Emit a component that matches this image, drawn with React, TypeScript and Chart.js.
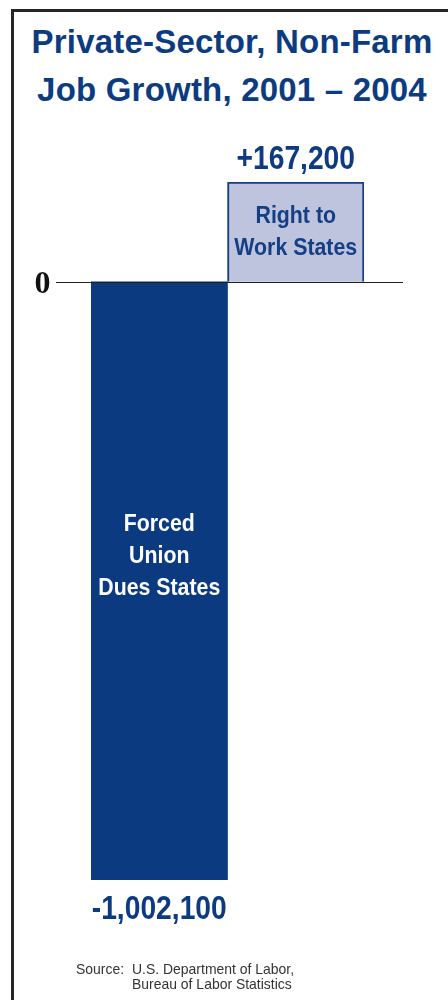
import React, { useEffect, useRef } from "react";
import { Chart, registerables } from "chart.js";

Chart.register(...registerables);

// ---- data ----
const categoryLines: string[][] = [
  ["Forced", "Union", "Dues States"],
  ["Right to", "Work States"],
];
const jobGrowth: number[] = [-1002100, 167200];
const titleLines: string[] = ["Private-Sector, Non-Farm", "Job Growth, 2001 \u2013 2004"];
const sourceLabel = "Source:";
const sourceLines: string[] = ["U.S. Department of Labor,", "Bureau of Labor Statistics"];
const zeroTickLabel = "0";

// ---- styles ----
const NAVY = "#0c3b81";
const barColors = ["#0b3a80", "#bec3de"];
const barBorderColors = ["#0b3a80", "#123f86"];
const labelColors = ["#ffffff", "#143f84"];
const labelCenterFrac = [0.455, 0.485];

const fmt = (v: number) => (v > 0 ? "+" : "-") + Math.abs(v).toLocaleString("en-US");

function drawScaled(ctx: CanvasRenderingContext2D, text: string, x: number, y: number, sx: number) {
  ctx.save();
  ctx.translate(x, y);
  ctx.scale(sx, 1);
  ctx.fillText(text, 0, 0);
  ctx.restore();
}

const barLabelPlugin = {
  id: "barLabels",
  afterDatasetsDraw(chart: any) {
    const ctx: CanvasRenderingContext2D = chart.ctx;
    const ca = chart.chartArea;
    const yScale = chart.scales.y;
    const y0 = Math.round(yScale.getPixelForValue(0)) + 0.5;
    ctx.save();
    // zero line
    ctx.strokeStyle = "#1e1e1e";
    ctx.lineWidth = 1.2;
    ctx.beginPath();
    ctx.moveTo(ca.left - 35, y0);
    ctx.lineTo(ca.right + 39, y0);
    ctx.stroke();
    // zero tick label
    ctx.fillStyle = "#111111";
    ctx.font = "bold 32px 'Liberation Serif', serif";
    ctx.textAlign = "right";
    ctx.textBaseline = "alphabetic";
    ctx.fillText(zeroTickLabel, ca.left - 40.5, y0 + 10.5);

    const meta = chart.getDatasetMeta(0);
    meta.data.forEach((bar: any, i: number) => {
      const v = jobGrowth[i];
      const p = bar.getProps(["x", "y", "base"], true);
      // value label
      ctx.fillStyle = NAVY;
      ctx.textAlign = "center";
      ctx.font = "bold 34px 'Liberation Sans', Arial, sans-serif";
      const vy = v >= 0 ? p.y - 13.5 : p.y + 39;
      drawScaled(ctx, fmt(v), p.x, vy, 0.83);
      // category label inside bar
      const top = Math.min(p.y, p.base);
      const bottom = Math.max(p.y, p.base);
      const center = top + labelCenterFrac[i] * (bottom - top);
      const lines = categoryLines[i];
      const capH = 17.5;
      const lh = 32;
      const first = center - (capH + (lines.length - 1) * lh) / 2 + capH;
      ctx.fillStyle = labelColors[i];
      ctx.font = "bold 24.5px 'Liberation Sans', Arial, sans-serif";
      lines.forEach((t, k) => drawScaled(ctx, t, p.x, first + k * lh, 0.87));
    });
    ctx.restore();
  },
};

export default function App() {
  const canvasRef = useRef<HTMLCanvasElement | null>(null);

  useEffect(() => {
    if (!canvasRef.current) return;
    const chart = new Chart(canvasRef.current, {
      type: "bar",
      data: {
        labels: categoryLines.map((l) => l.join(" ")),
        datasets: [
          {
            data: jobGrowth,
            backgroundColor: barColors,
            borderColor: barBorderColors,
            borderWidth: [0, 2],
            borderSkipped: "start",
            categoryPercentage: 1,
            barPercentage: 1,
          },
        ],
      },
      options: {
        responsive: true,
        maintainAspectRatio: false,
        animation: false,
        layout: { padding: { left: 91, right: 84, top: 182, bottom: 120 } },
        plugins: {
          legend: { display: false },
          tooltip: { enabled: false },
          title: { display: false },
        },
        scales: {
          x: { display: false },
          y: {
            display: false,
            min: Math.min(...jobGrowth),
            max: Math.max(...jobGrowth),
          },
        },
      },
      plugins: [barLabelPlugin],
    } as any);
    return () => chart.destroy();
  }, []);

  const sourceStyle: React.CSSProperties = {
    position: "absolute",
    fontFamily: "'Liberation Sans', Arial, sans-serif",
    fontSize: 15,
    lineHeight: "15px",
    color: "#333333",
    whiteSpace: "nowrap",
    transform: "scaleX(0.93)",
    transformOrigin: "left top",
  };

  return (
    <div
      style={{
        position: "absolute",
        left: 0,
        top: 0,
        width: 448,
        height: 1000,
        overflow: "hidden",
        background: "#ffffff",
      }}
    >
      <div
        style={{
          position: "absolute",
          left: 11,
          top: 9,
          width: 600,
          height: 1200,
          borderLeft: "3px solid #262626",
          borderTop: "3px solid #262626",
        }}
      />
      <div
        style={{
          position: "absolute",
          left: 14,
          top: 18,
          width: 436,
          textAlign: "center",
          fontFamily: "'Liberation Sans', Arial, sans-serif",
          fontWeight: "bold",
          fontSize: 33,
          lineHeight: "48px",
          letterSpacing: 0.2,
          color: NAVY,
          whiteSpace: "nowrap",
        }}
      >
        {titleLines.map((t, i) => (
          <div key={i}>{t}</div>
        ))}
      </div>
      <div style={{ position: "absolute", left: 0, top: 0, width: 448, height: 1000 }}>
        <canvas ref={canvasRef} />
      </div>
      <div style={{ ...sourceStyle, left: 76, top: 960.6 }}>{sourceLabel}</div>
      {sourceLines.map((t, i) => (
        <div key={i} style={{ ...sourceStyle, left: 132, top: 960.6 + i * 15 }}>
          {t}
        </div>
      ))}
    </div>
  );
}
